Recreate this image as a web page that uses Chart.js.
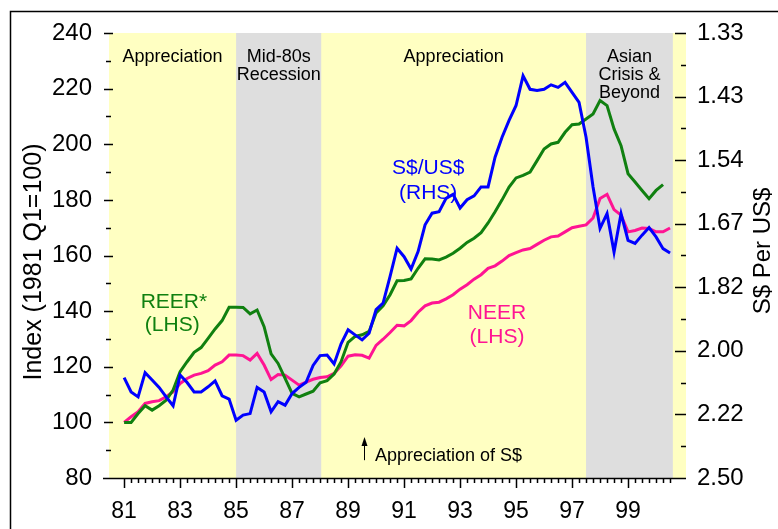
<!DOCTYPE html>
<html>
<head>
<meta charset="utf-8">
<script src="https://cdn.jsdelivr.net/npm/chart.js@4.4.0/dist/chart.umd.min.js"></script>
<style>
  html, body { margin: 0; padding: 0; background: #fff; }
</style>
</head>
<body>
<canvas id="chart" width="778" height="529"></canvas>
<script>
// quarterly series, 1981 Q1 onwards
const firstYear = 81;

// S$ per US$ (right axis, inverted scale)
const sgdPerUsd = [2.088,2.138,2.156,2.071,2.096,2.122,2.156,2.189,2.079,2.105,
  2.138,2.138,2.120,2.099,2.152,2.164,2.245,2.225,2.219,2.122,
  2.138,2.212,2.174,2.187,2.144,2.122,2.104,2.047,2.015,2.013,
  2.042,1.978,1.936,1.951,1.966,1.946,1.878,1.860,1.790,1.722,
  1.742,1.772,1.730,1.669,1.644,1.641,1.613,1.605,1.633,1.616,
  1.608,1.590,1.590,1.533,1.497,1.468,1.443,1.396,1.417,1.419,
  1.417,1.410,1.414,1.406,1.422,1.438,1.497,1.590,1.677,1.645,
  1.731,1.645,1.704,1.711,1.692,1.675,1.696,1.723,1.733];

// REER index (1981 Q1 = 100)
const reer = [100,100,103.2,106,104.4,106,108,111.6,118.2,121.8,
  125.2,126.9,130.2,133.6,136.6,141.4,141.4,141.3,139,140.4,
  134.4,124.6,121.2,115.8,110.4,109.2,110.2,111.2,114.2,115,
  117.4,121.8,128.8,130.9,131.5,132.7,139.3,141.9,145.9,150.9,
  151,151.6,155.4,158.8,158.7,158.4,159.4,160.8,162.6,164.7,
  166.2,168.2,171.7,175.7,180,184.6,187.9,188.8,190,194.1,
  198.3,200.1,200.7,204.3,207,207.3,209.1,210.9,215.7,213.9,
  205.5,199.5,189.4,186.4,183.4,180.4,183.4,185.5];

// NEER index (1981 Q1 = 100)
const neer = [100,102,103.8,106.8,107.4,107.8,109.2,111,114,115.8,
  117,117.6,118.6,120.6,121.8,124.2,124.2,124,122.4,124.8,
  120.6,115.4,117.2,117,115.2,113.4,114.5,115.5,116.1,116.4,
  117.6,120.3,123.8,124.3,124.1,123.1,127.7,129.9,132.3,134.9,
  134.7,136.6,139.6,141.9,142.9,143.2,144.4,145.9,147.9,149.5,
  151.5,153.1,155.4,156.3,158,160,161,162,162.5,164,
  165.5,166.7,167,168.5,170,170.5,171,173.5,180.5,182,
  176.5,174.5,168.5,169,169.9,169.7,168.5,168.5,169.9];

const yearTicks = [81,83,85,87,89,91,93,95,97,99];
const indexTicks = [80,100,120,140,160,180,200,220,240];
// right axis runs linear in US$ per S$, labelled as S$ per US$
const rateTicks = [0.40,0.45,0.50,0.55,0.60,0.65,0.70,0.75];

// periods: boundaries and names
const periodBounds = [80.46, 85, 88.04, 97.5, 100.6];
const periodNames = [['Appreciation'], ['Mid-80s','Recession'], ['Appreciation'], ['Asian','Crisis &','Beyond']];

const YELLOW = '#ffffc2';
const GREY = '#dedede';
const GREEN = '#108010';
const PINK = '#ff1493';
const BLUE = '#0000ff';
const FONT = '"Liberation Sans", Arial, sans-serif';

function qx(i) { return firstYear + i / 4; }

const decor = {
  id: 'decor',
  beforeDraw(chart) {
    const ctx = chart.ctx;
    ctx.save();
    ctx.fillStyle = '#fff';
    ctx.fillRect(0, 0, chart.width, chart.height);
    ctx.strokeStyle = '#000';
    ctx.lineWidth = 1.5;
    ctx.beginPath();
    ctx.moveTo(10.5, chart.height);
    ctx.lineTo(10.5, 11.5);
    ctx.lineTo(chart.width, 11.5);
    ctx.stroke();
    ctx.restore();
  },
  beforeDatasetsDraw(chart) {
    const {ctx, chartArea: a, scales} = chart;
    const x = scales.x, y = scales.y, y1 = scales.y1;
    ctx.save();
    ctx.fillStyle = YELLOW;
    ctx.fillRect(a.left, a.top, a.right - a.left, a.bottom - a.top);
    ctx.fillStyle = GREY;
    [1, 3].forEach(k => {
      const x0 = x.getPixelForValue(periodBounds[k]);
      const x1 = x.getPixelForValue(periodBounds[k + 1]);
      ctx.fillRect(x0, a.top, x1 - x0, a.bottom - a.top);
    });

    ctx.strokeStyle = '#000';
    ctx.lineWidth = 1.5;
    ctx.beginPath();
    // left ticks
    for (let v = 80; v <= 240; v += 10) {
      const py = Math.round(y.getPixelForValue(v)) + 0.5;
      const major = v % 20 === 0;
      ctx.moveTo(major ? a.left - 5 : a.left - 3, py);
      ctx.lineTo(major ? a.left + 4 : a.left + 2, py);
    }
    // right ticks
    for (let k = 0; k <= 14; k++) {
      const v = 0.40 + k * 0.025;
      const py = Math.round(y1.getPixelForValue(v)) + 0.5;
      ctx.moveTo(a.right - (k % 2 === 0 ? 11 : 5), py);
      ctx.lineTo(a.right, py);
    }
    // bottom axis line and ticks
    ctx.moveTo(a.left - 6, a.bottom + 0.5);
    ctx.lineTo(a.right, a.bottom + 0.5);
    for (let i = 0; i < neer.length; i++) {
      const v = qx(i);
      const px = Math.round(x.getPixelForValue(v)) + 0.5;
      const major = yearTicks.includes(v);
      ctx.moveTo(px, a.bottom);
      ctx.lineTo(px, a.bottom + (major ? 10 : 5));
    }
    ctx.stroke();
    ctx.restore();
  },
  afterDatasetsDraw(chart) {
    const {ctx, chartArea: a, scales} = chart;
    const x = scales.x, y = scales.y;
    ctx.save();
    ctx.textAlign = 'center';
    ctx.textBaseline = 'middle';
    // period names
    ctx.fillStyle = '#000';
    ctx.font = '18px ' + FONT;
    periodNames.forEach((lines, k) => {
      const cx = x.getPixelForValue((periodBounds[k] + periodBounds[k + 1]) / 2);
      lines.forEach((t, j) => ctx.fillText(t, cx, a.top + 24 + j * 18));
    });
    // series labels
    ctx.font = '21px ' + FONT;
    ctx.fillStyle = GREEN;
    ctx.fillText('REER*', x.getPixelForValue(82.78), y.getPixelForValue(143.2));
    ctx.fillText('(LHS)', x.getPixelForValue(82.72), y.getPixelForValue(135));
    ctx.fillStyle = PINK;
    ctx.fillText('NEER', x.getPixelForValue(94.32), y.getPixelForValue(139.3));
    ctx.fillText('(LHS)', x.getPixelForValue(94.32), y.getPixelForValue(130.6));
    ctx.fillStyle = BLUE;
    ctx.fillText('S$/US$', x.getPixelForValue(91.86), y.getPixelForValue(191.5));
    ctx.fillText('(RHS)', x.getPixelForValue(91.86), y.getPixelForValue(182.3));

    // appreciation arrow
    const ax = Math.round(x.getPixelForValue(89.57)) + 0.5;
    const yTop = y.getPixelForValue(94.7), yBot = y.getPixelForValue(86.4);
    ctx.strokeStyle = '#000';
    ctx.fillStyle = '#000';
    ctx.lineWidth = 1;
    ctx.beginPath();
    ctx.moveTo(ax, yBot);
    ctx.lineTo(ax, yTop + 6);
    ctx.stroke();
    ctx.beginPath();
    ctx.moveTo(ax, yTop);
    ctx.lineTo(ax - 3, yTop + 9);
    ctx.lineTo(ax + 3, yTop + 9);
    ctx.closePath();
    ctx.fill();
    ctx.font = '18px ' + FONT;
    ctx.textAlign = 'left';
    ctx.fillText('Appreciation of S$', x.getPixelForValue(89.96), y.getPixelForValue(87.8));
    ctx.restore();
  },
  afterDraw(chart) {
    const ctx = chart.ctx;
    ctx.save();
    ctx.fillStyle = '#000';
    ctx.font = '25px ' + FONT;
    ctx.textAlign = 'center';
    ctx.textBaseline = 'middle';
    ctx.translate(34, 262);
    ctx.rotate(-Math.PI / 2);
    ctx.fillText('Index (1981 Q1=100)', 0, 0);
    ctx.restore();
    ctx.save();
    ctx.fillStyle = '#000';
    ctx.font = '24px ' + FONT;
    ctx.textAlign = 'center';
    ctx.textBaseline = 'middle';
    ctx.translate(763, 251);
    ctx.rotate(-Math.PI / 2);
    ctx.fillText('S$ Per US$', 0, 0);
    ctx.restore();
  }
};

const lineStyle = { borderWidth: 3, pointRadius: 0, tension: 0, fill: false };

new Chart(document.getElementById('chart'), {
  type: 'line',
  data: {
    datasets: [
      Object.assign({ label: 'S$/US$', yAxisID: 'y1', borderColor: BLUE,
        data: sgdPerUsd.map((r, i) => ({ x: qx(i), y: 1 / r })) }, lineStyle),
      Object.assign({ label: 'REER*', yAxisID: 'y', borderColor: GREEN,
        data: reer.map((v, i) => ({ x: qx(i), y: v })) }, lineStyle),
      Object.assign({ label: 'NEER', yAxisID: 'y', borderColor: PINK,
        data: neer.map((v, i) => ({ x: qx(i), y: v })) }, lineStyle)
    ]
  },
  options: {
    responsive: false,
    animation: false,
    layout: { padding: { top: 33, left: 0, right: 0, bottom: 0 } },
    plugins: { legend: { display: false }, tooltip: { enabled: false } },
    scales: {
      x: {
        type: 'linear', min: 80.46, max: 101.07,
        grid: { display: false, drawTicks: false }, border: { display: false },
        afterBuildTicks: s => { s.ticks = yearTicks.map(v => ({ value: v })); },
        afterFit: s => { s.height = 51; },
        ticks: { font: { family: FONT, size: 23 }, color: '#000', padding: 20,
          maxRotation: 0, autoSkip: false, callback: v => String(v) }
      },
      y: {
        position: 'left', min: 80, max: 240,
        grid: { display: false, drawTicks: false }, border: { display: false },
        afterBuildTicks: s => { s.ticks = indexTicks.map(v => ({ value: v })); },
        afterFit: s => { s.width = 109; },
        ticks: { font: { family: FONT, size: 24 }, color: '#000', padding: 17 }
      },
      y1: {
        position: 'right', min: 0.40, max: 0.75,
        grid: { display: false, drawTicks: false }, border: { display: false },
        afterBuildTicks: s => { s.ticks = rateTicks.map(v => ({ value: v })); },
        afterFit: s => { s.width = 92; },
        ticks: { font: { family: FONT, size: 24 }, color: '#000', padding: 11,
          callback: v => (1 / v).toFixed(2) }
      }
    }
  },
  plugins: [decor]
});
</script>
</body>
</html>
